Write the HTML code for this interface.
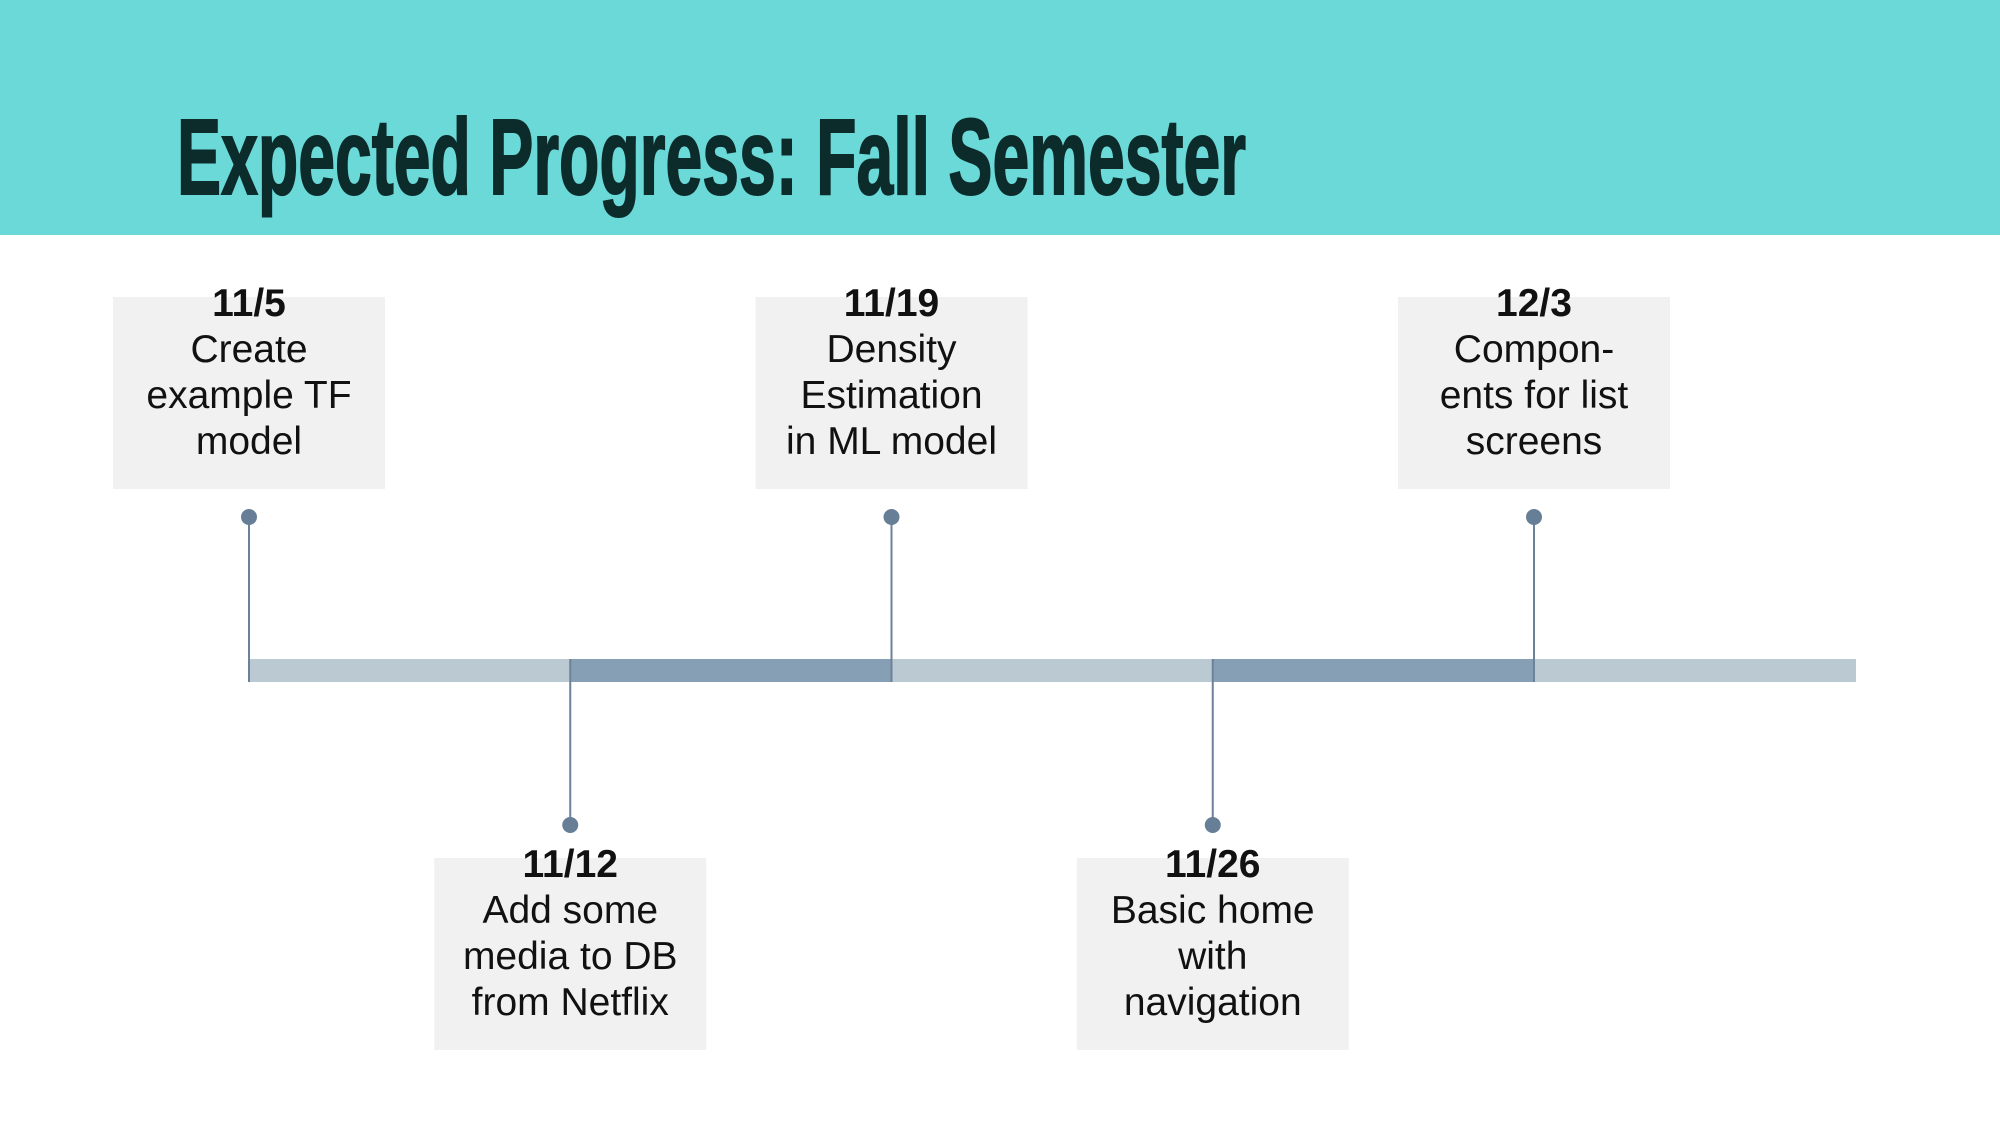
<!DOCTYPE html>
<html><head><meta charset="utf-8"><style>
html,body{margin:0;padding:0;background:#fff;}
svg{display:block;}
</style></head><body>
<svg id="chart" width="2000" height="1125" viewBox="0 0 2000 1125" xmlns="http://www.w3.org/2000/svg">
  <rect x="0" y="0" width="2000" height="235" fill="#6ad9d8"/>
  <text x="177" y="194" font-family="'Liberation Sans Narrow','Liberation Sans',sans-serif" font-weight="bold" font-size="108" fill="#0c2b2b" stroke="#0c2b2b" stroke-width="2" textLength="1069" lengthAdjust="spacingAndGlyphs">Expected Progress: Fall Semester</text>
  <g id="timeline"></g>
</svg>
<script>
const dates = ["11/5", "11/12", "11/19", "11/26", "12/3"];
const labels = [
  ["Create", "example TF", "model"],
  ["Add some", "media to DB", "from Netflix"],
  ["Density", "Estimation", "in ML model"],
  ["Basic home", "with", "navigation"],
  ["Compon-", "ents for list", "screens"]
];
const weekIndex = [0, 1, 2, 3, 4];
const sides = ["top", "bottom", "top", "bottom", "top"];

const NS = "http://www.w3.org/2000/svg";
const g = document.getElementById("timeline");
const x0 = 249, step = 321.25;
function xScale(i){ return x0 + i * step; }
const barTop = 659, barH = 23, barEnd = 1856;
function mk(tag, attrs){ const e = document.createElementNS(NS, tag); for (const k in attrs) e.setAttribute(k, attrs[k]); g.appendChild(e); return e; }

const bar = mk("rect", {x: x0, y: barTop, width: barEnd - x0, height: barH, fill: "#bbc9d3"});


for (let i = 1; i < dates.length; i += 2) {
  const s = mk("rect", {x: xScale(weekIndex[i]), y: barTop, width: step, height: barH, fill: "#879fb4"});
  
  
}
const font = "'Liberation Sans', sans-serif";
dates.forEach((d, i) => {
  const x = xScale(weekIndex[i]);
  const top = sides[i] === "top";
  const dotY = top ? 517 : 825;
  const ln = mk("line", {x1: x, x2: x, y1: dotY, y2: top ? barTop + barH : barTop, stroke: "#6b8299", "stroke-width": 2});
  
  
  const dot = mk("circle", {cx: x, cy: dotY, r: 8, fill: "#667f96"});
  
  
  const boxY = top ? 297 : 858;
  const box = mk("rect", {x: x - 136, y: boxY, width: 272, height: 192, fill: "#f1f1f1"});
  
  
  const base = top ? 316 : 877;
  const dt = mk("text", {x: x, y: base, "text-anchor": "middle", "font-family": font, "font-weight": "bold", "font-size": 39, fill: "#111"});
  dt.textContent = d;
  
  
  labels[i].forEach((t, j) => {
    const tx = mk("text", {x: x, y: base + 46 * (j + 1), "text-anchor": "middle", "font-family": font, "font-size": 39, fill: "#111"});
    tx.textContent = t;
    
    
  });
});
</script>
</body></html>
